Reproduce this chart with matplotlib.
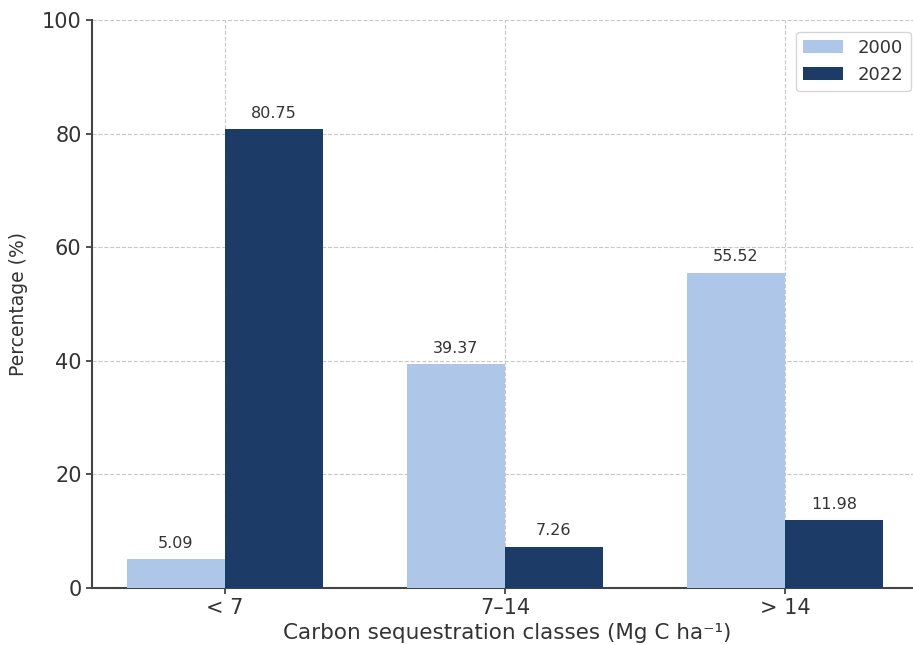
import numpy as np
import matplotlib.pyplot as plt

# データ
categories = ['< 7', '7–14', '> 14']
years = ['2000', '2022']
values_2000 = [5.09, 39.37, 55.52]
values_2022 = [80.75, 7.26, 11.98]
colors = ['#aec7e8', '#1c3b66']

fig = plt.figure(figsize=(9.13, 6.45), dpi=100)
ax = fig.add_axes([92/913, 1-588/645, 1-92/913 + 0.01, (588-20)/645])

x = np.arange(len(categories))
w = 0.35
b1 = ax.bar(x - w/2, values_2000, w, color=colors[0], label=years[0], zorder=3)
b2 = ax.bar(x + w/2, values_2022, w, color=colors[1], label=years[1], zorder=3)

# 棒の上に値を表示
for bars in (b1, b2):
    for rect in bars:
        h = rect.get_height()
        ax.annotate(f'{h:.2f}', (rect.get_x() + rect.get_width()/2, h),
                    xytext=(0, 6), textcoords='offset points',
                    ha='center', va='bottom', fontsize=11.5, color='#333333')

ax.set_ylim(0, 100)
ax.set_xlim(-0.475, 2.49)
ax.set_xticks(x)
ax.set_xticklabels(categories)
ax.set_yticks([0, 20, 40, 60, 80, 100])
ax.tick_params(labelsize=15, colors='#333333', length=4, width=1.2)
ax.set_xlabel('Carbon sequestration classes (Mg C ha⁻¹)', fontsize=15.5, color='#333333', labelpad=3)
ax.set_ylabel('Percentage (%)', fontsize=13.5, color='#333333', labelpad=10)
ax.grid(True, linestyle='--', color='#c8c8c8', linewidth=0.8, zorder=0)
ax.set_axisbelow(True)
for s in ('top', 'right'):
    ax.spines[s].set_visible(False)
for s in ('left', 'bottom'):
    ax.spines[s].set_color('#444444')
    ax.spines[s].set_linewidth(1.5)

leg = ax.legend(loc='upper right', fontsize=13, frameon=True,
                bbox_to_anchor=(0.997, 0.995), handlelength=2.2)
for t in leg.get_texts():
    t.set_color('#333333')

fig.savefig('out.png', dpi=100)
